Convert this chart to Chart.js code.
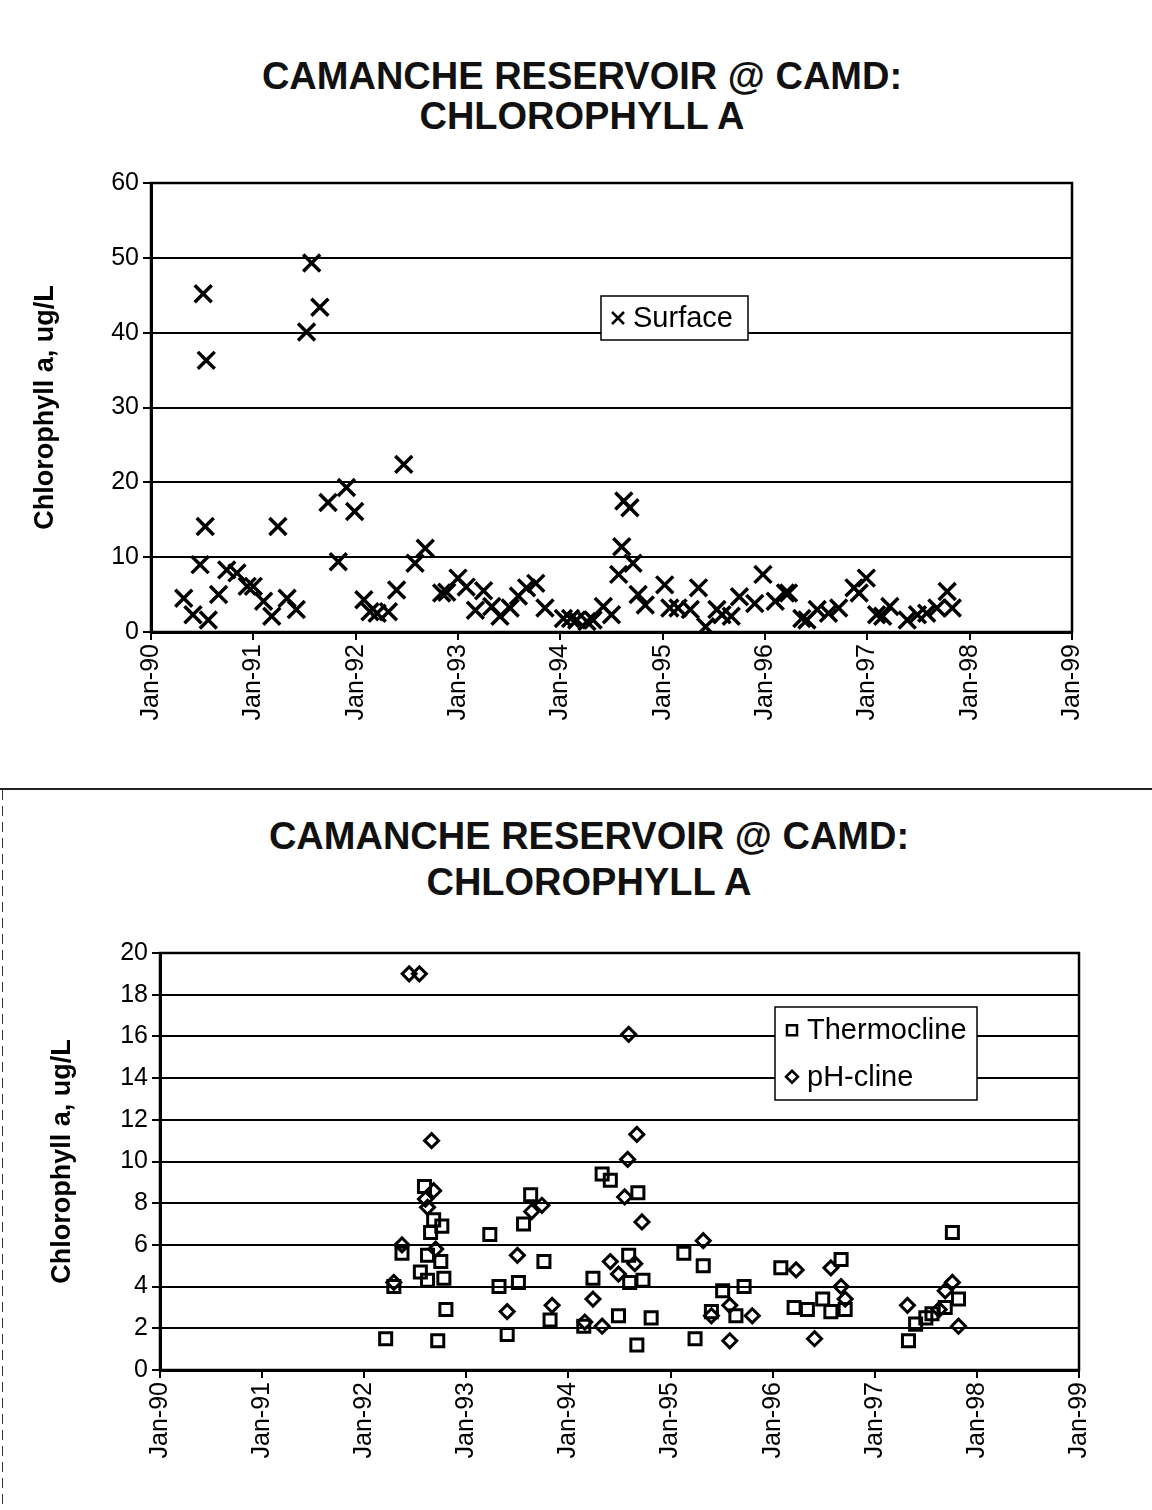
<!DOCTYPE html>
<html>
<head>
<meta charset="utf-8">
<script src="https://cdn.jsdelivr.net/npm/chart.js@4.4.1/dist/chart.umd.min.js"></script>
<style>
  body { margin: 0; background: #fff; width: 1152px; height: 1510px; position: relative; overflow: hidden; font-family: "Liberation Sans", Arial, sans-serif; }
  .title { position: absolute; width: 1152px; text-align: center; font-weight: bold; font-size: 38px; color: #111; line-height: 40px; }
  canvas { position: absolute; left: 0; }
  .rule { position: absolute; background: #222; }
</style>
</head>
<body>
<div class="title" style="top:56px; left:6px">CAMANCHE RESERVOIR @ CAMD:<br>CHLOROPHYLL A</div>
<div class="title" style="top:813px; left:13px; line-height:46px">CAMANCHE RESERVOIR @ CAMD:<br>CHLOROPHYLL A</div>
<div class="rule" style="left:0; top:788px; width:1152px; height:2px"></div>
<div class="rule" style="left:2px; top:790px; width:1px; height:720px; background:repeating-linear-gradient(#333 0 10px, transparent 10px 16px)"></div>
<canvas id="top" width="1152" height="580" style="top:160px"></canvas>
<canvas id="bottom" width="1152" height="560" style="top:930px"></canvas>
<script>
// x positions are decimal years, labelled like the sheet's axis
const tickLabels = ["Jan-90", "Jan-91", "Jan-92", "Jan-93", "Jan-94", "Jan-95", "Jan-96", "Jan-97", "Jan-98", "Jan-99"];

const surfaceDates = [
  1990.32, 1990.41, 1990.48, 1990.51, 1990.53, 1990.54, 1990.56, 1990.66, 1990.74, 1990.84,
  1990.94, 1991.00, 1991.10, 1991.18, 1991.24, 1991.33, 1991.42, 1991.52, 1991.57, 1991.65,
  1991.73, 1991.83, 1991.91, 1991.99, 1992.08, 1992.14, 1992.21, 1992.32, 1992.40, 1992.47,
  1992.58, 1992.68, 1992.84, 1992.89, 1993.00, 1993.08, 1993.17, 1993.25, 1993.33, 1993.41,
  1993.51, 1993.59, 1993.67, 1993.76, 1993.85, 1994.03, 1994.10, 1994.16, 1994.26, 1994.32,
  1994.42, 1994.50, 1994.57, 1994.60, 1994.62, 1994.68, 1994.71, 1994.76, 1994.83, 1995.02,
  1995.07, 1995.15, 1995.27, 1995.35, 1995.42, 1995.53, 1995.58, 1995.67, 1995.75, 1995.90,
  1995.98, 1996.10, 1996.20, 1996.23, 1996.36, 1996.41, 1996.51, 1996.62, 1996.72, 1996.87,
  1996.92, 1996.99, 1997.09, 1997.15, 1997.22, 1997.39, 1997.49, 1997.58, 1997.68, 1997.78,
  1997.83
];
const surfaceValues = [
  4.5, 2.3, 9.0, 45.2, 14.1, 36.3, 1.6, 5.0, 8.3, 7.9,
  6.1, 6.1, 4.1, 2.1, 14.1, 4.5, 3.0, 40.1, 49.3, 43.4,
  17.3, 9.4, 19.3, 16.1, 4.3, 2.7, 2.5, 2.7, 5.6, 22.4,
  9.2, 11.2, 5.2, 5.3, 7.2, 6.0, 2.9, 5.5, 3.4, 2.1,
  3.2, 4.8, 5.9, 6.5, 3.2, 1.8, 1.8, 1.6, 1.4, 1.6,
  3.4, 2.3, 7.7, 11.4, 17.5, 16.6, 9.2, 5.0, 3.6, 6.3,
  3.2, 3.2, 3.0, 5.9, 0.7, 3.0, 2.3, 2.1, 4.7, 3.8,
  7.7, 4.1, 5.2, 5.2, 1.8, 1.6, 3.0, 2.5, 3.2, 5.9,
  5.2, 7.2, 2.3, 2.1, 3.4, 1.6, 2.3, 2.5, 3.2, 5.4,
  3.2
];

const thermoDates = [
  1992.21, 1992.29, 1992.37, 1992.55, 1992.59, 1992.62, 1992.62, 1992.65, 1992.68, 1992.72,
  1992.75, 1992.76, 1992.78, 1992.80, 1993.23, 1993.32, 1993.40, 1993.51, 1993.56, 1993.63,
  1993.76, 1993.82, 1994.15, 1994.24, 1994.33, 1994.41, 1994.49, 1994.59, 1994.60, 1994.67,
  1994.68, 1994.73, 1994.81, 1995.13, 1995.24, 1995.32, 1995.40, 1995.51, 1995.64, 1995.72,
  1996.08, 1996.21, 1996.34, 1996.49, 1996.57, 1996.67, 1996.71, 1997.33, 1997.40, 1997.50,
  1997.56, 1997.69, 1997.76, 1997.82
];
const thermoValues = [
  1.5, 4.0, 5.6, 4.7, 8.8, 5.5, 4.3, 6.6, 7.2, 1.4,
  5.2, 6.9, 4.4, 2.9, 6.5, 4.0, 1.7, 4.2, 7.0, 8.4,
  5.2, 2.4, 2.1, 4.4, 9.4, 9.1, 2.6, 5.5, 4.2, 1.2,
  8.5, 4.3, 2.5, 5.6, 1.5, 5.0, 2.8, 3.8, 2.6, 4.0,
  4.9, 3.0, 2.9, 3.4, 2.8, 5.3, 2.9, 1.4, 2.2, 2.5,
  2.7, 3.0, 6.6, 3.4
];

const phDates = [
  1992.29, 1992.37, 1992.44, 1992.54, 1992.60, 1992.62, 1992.66, 1992.68, 1992.70, 1993.40,
  1993.50, 1993.64, 1993.74, 1993.84, 1994.16, 1994.24, 1994.33, 1994.41, 1994.49, 1994.55,
  1994.58, 1994.59, 1994.65, 1994.67, 1994.72, 1995.32, 1995.40, 1995.58, 1995.58, 1995.80,
  1996.23, 1996.41, 1996.57, 1996.67, 1996.71, 1997.32, 1997.63, 1997.69, 1997.76, 1997.82
];
const phValues = [
  4.2, 6.0, 19.0, 19.0, 8.2, 7.8, 11.0, 8.6, 5.8, 2.8,
  5.5, 7.6, 7.9, 3.1, 2.3, 3.4, 2.1, 5.2, 4.6, 8.3,
  10.1, 16.1, 5.1, 11.3, 7.1, 6.2, 2.6, 1.4, 3.1, 2.6,
  4.8, 1.5, 4.9, 4.0, 3.4, 3.1, 2.9, 3.8, 4.2, 2.1
];

const toPoints = (xs, ys) => xs.map((x, i) => ({ x: x, y: ys[i] }));

const tickFont = { family: "Liberation Sans", size: 25 };
const axisTitleFont = { family: "Liberation Sans", size: 27, weight: "bold" };

// box round the plot plus a legend drawn inside it
function framePlugin(legendItems, box) {
    return {
        id: "frame",
        afterDraw: (chart) => {
            const ctx = chart.ctx;
            const { top, left, right, bottom } = chart.chartArea;
            ctx.save();
            ctx.strokeStyle = "#000";
            ctx.lineWidth = 2.5;
            ctx.strokeRect(left, top, right - left, bottom - top);

            ctx.fillStyle = "#fff";
            ctx.fillRect(box.x, box.y, box.w, box.h);
            ctx.lineWidth = 1.5;
            ctx.strokeRect(box.x, box.y, box.w, box.h);
            ctx.font = "29px 'Liberation Sans'";
            ctx.textBaseline = "middle";
            ctx.fillStyle = "#000";
            legendItems.forEach((item, i) => {
                const cy = box.y + box.h / (legendItems.length * 2) * (2 * i + 1);
                const cx = box.x + 17;
                ctx.lineWidth = 2.5;
                ctx.beginPath();
                if (item.style === "crossRot") {
                    ctx.moveTo(cx - 6, cy - 6); ctx.lineTo(cx + 6, cy + 6);
                    ctx.moveTo(cx + 6, cy - 6); ctx.lineTo(cx - 6, cy + 6);
                } else if (item.style === "rect") {
                    ctx.rect(cx - 5, cy - 5, 10, 10);
                } else {
                    ctx.moveTo(cx, cy - 6); ctx.lineTo(cx + 6, cy);
                    ctx.lineTo(cx, cy + 6); ctx.lineTo(cx - 6, cy); ctx.closePath();
                }
                ctx.stroke();
                ctx.fillText(item.label, cx + 15, cy + 1);
            });
            ctx.restore();
        },
    };
}

function makeOptions(yMax, yStep, yWidth, xHeight, pad, titlePad) {
    return {
        responsive: false,
        animation: false,
        layout: { padding: pad },
        plugins: { legend: { display: false }, tooltip: { enabled: false } },
        scales: {
            x: {
                type: "linear",
                min: 1990,
                max: 1999,
                afterFit: (scale) => { scale.height = xHeight; },
                afterBuildTicks: (scale) => {
                    scale.ticks = tickLabels.map((t, i) => ({ value: 1990 + i }));
                },
                ticks: {
                    color: "#000",
                    font: tickFont,
                    minRotation: 90,
                    maxRotation: 90,
                    padding: 4,
                    callback: (v) => tickLabels[Math.round(v - 1990)],
                },
                grid: { drawOnChartArea: false, drawTicks: true, tickLength: 8, color: "#000", lineWidth: 2 },
                border: { color: "#000", width: 3 },
            },
            y: {
                min: 0,
                max: yMax,
                afterFit: (scale) => { scale.width = yWidth; },
                ticks: { stepSize: yStep, color: "#000", font: tickFont, padding: 4 },
                grid: { color: "#000", lineWidth: 2, tickLength: 8 },
                border: { color: "#000", width: 3 },
                title: {
                    display: true,
                    text: "Chlorophyll a, ug/L",
                    color: "#000",
                    font: axisTitleFont,
                    padding: { top: titlePad, bottom: 0 },
                },
            },
        },
    };
}

new Chart(document.getElementById("top"), {
    type: "scatter",
    data: {
        datasets: [
            {
                label: "Surface",
                data: toPoints(surfaceDates, surfaceValues),
                pointStyle: "crossRot",
                pointRadius: 12,
                borderColor: "#000",
                borderWidth: 3.5,
            },
        ],
    },
    options: makeOptions(60, 10, 151, 108, { top: 23, right: 80, left: 0, bottom: 0 }, 29),
    plugins: [framePlugin([{ label: "Surface", style: "crossRot" }], { x: 601, y: 136, w: 147, h: 44 })],
});

new Chart(document.getElementById("bottom"), {
    type: "scatter",
    data: {
        datasets: [
            {
                label: "Thermocline",
                data: toPoints(thermoDates, thermoValues),
                pointStyle: "rect",
                pointRadius: 8.5,
                backgroundColor: "rgba(255,255,255,0)",
                borderColor: "#000",
                borderWidth: 3,
            },
            {
                label: "pH-cline",
                data: toPoints(phDates, phValues),
                pointStyle: "rectRot",
                pointRadius: 7,
                backgroundColor: "rgba(255,255,255,0)",
                borderColor: "#000",
                borderWidth: 3,
            },
        ],
    },
    options: makeOptions(20, 2, 160, 120, { top: 23, right: 73, left: 0, bottom: 0 }, 46),
    plugins: [framePlugin([{ label: "Thermocline", style: "rect" }, { label: "pH-cline", style: "rectRot" }], { x: 775, y: 77, w: 202, h: 93 })],
});
</script>
</body>
</html>
